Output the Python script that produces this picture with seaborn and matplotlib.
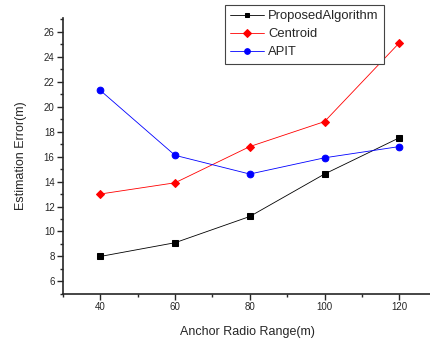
import pandas as pd
import matplotlib.pyplot as plt
import seaborn as sns
from matplotlib.ticker import MultipleLocator

# valores
raio = [40, 60, 80, 100, 120]
proposto = [8.0, 9.1, 11.2, 14.6, 17.5]
centroide = [13.0, 13.9, 16.8, 18.8, 25.1]
apit = [21.3, 16.1, 14.6, 15.9, 16.8]

series = [
    ("ProposedAlgorithm", proposto, "black", "s", 4),
    ("Centroid", centroide, "red", "D", 4.5),
    ("APIT", apit, "blue", "o", 4.8),
]

sns.set_theme(style="ticks")
plt.rcParams['font.family'] = ['Liberation Sans', 'DejaVu Sans']

fig = plt.figure(figsize=(4.31, 3.39), dpi=100)
ax = fig.add_axes([0.146, 0.133, 0.854, 0.814])

for nome, valores, cor, marcador, tam in series:
    df = pd.DataFrame({"raio": raio, "erro": valores})
    sns.lineplot(data=df, x="raio", y="erro", ax=ax, color=cor, marker=marcador,
                 markersize=tam, markeredgecolor=cor, linewidth=0.6, label=nome)

ax.set_xlim(30, 128.5)
ax.set_ylim(5, 27.1)
ax.set_xticks(raio)
ax.set_yticks(range(6, 27, 2))
ax.xaxis.set_minor_locator(MultipleLocator(10))
ax.yaxis.set_minor_locator(MultipleLocator(1))
ax.tick_params(which="major", length=4, width=1, labelsize=7, direction="out", pad=2)
ax.tick_params(which="minor", length=2, width=1, direction="out")
sns.despine(ax=ax)
for lado in ["left", "bottom"]:
    ax.spines[lado].set_linewidth(1.2)

ax.set_xlabel("Anchor Radio Range(m)", fontsize=9, labelpad=10)
ax.set_ylabel("Estimation Error(m)", fontsize=9, labelpad=12)

leg = ax.legend(loc="upper left", bbox_to_anchor=(0.522, 0.985), bbox_transform=fig.transFigure,
                fontsize=9.4, frameon=True, fancybox=False, borderpad=0.4, labelspacing=0.45,
                handlelength=2.6, handletextpad=0.3, borderaxespad=0, markerscale=0.85)
leg.get_frame().set_edgecolor("#444444")
leg.get_frame().set_linewidth(0.8)
leg.get_frame().set_alpha(1)

fig.savefig("out.png", dpi=100)
plt.close('all')
